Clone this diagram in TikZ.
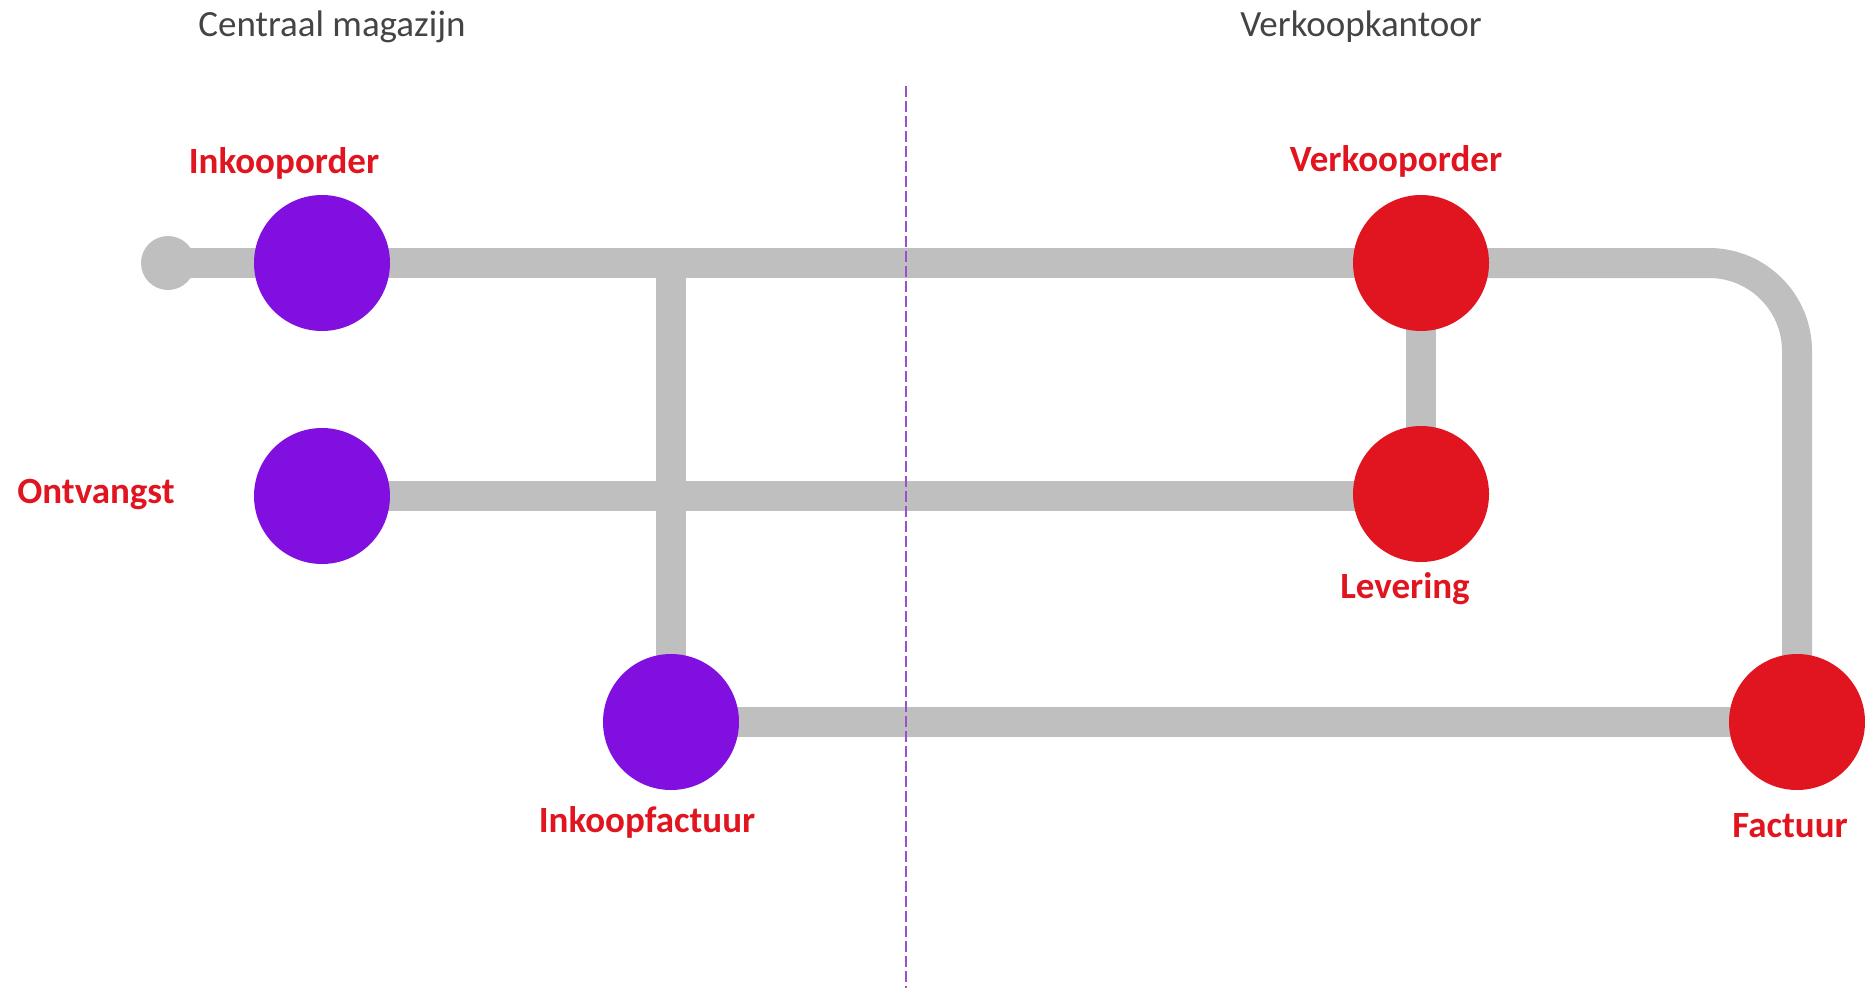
\documentclass[tikz,border=0pt]{standalone}
\usepackage{fontspec}
\setmainfont{Carlito}
\pgfdeclarelayer{bg}
\pgfsetlayers{bg,main}
\definecolor{trackgray}{HTML}{BFBFBF}
\definecolor{stpurple}{HTML}{8110E0}
\definecolor{stred}{HTML}{E0151F}
\definecolor{dashpurple}{HTML}{9B4FCB}
\definecolor{titlegray}{HTML}{444444}
\begin{document}
\begin{tikzpicture}[x=1pt,y=-1pt,
  track/.style={draw=trackgray,line width=30pt},
  station/.style={circle,inner sep=0pt,minimum size=136pt},
  pstation/.style={station,fill=stpurple},
  rstation/.style={station,fill=stred},
  lbl/.style={text=stred,font=\fontsize{37}{44}\selectfont\bfseries,anchor=base,inner sep=0pt},
  ttl/.style={text=titlegray,font=\fontsize{37}{44}\selectfont,anchor=base,inner sep=0pt},
  divider/.style={draw=dashpurple,line width=2.5pt,dash pattern=on 11pt off 4pt}]
\useasboundingbox (0,0) rectangle (1865,988);
% titles
\node[ttl] (t1) at (332,36) {Centraal magazijn};
\node[ttl] (t2) at (1361,36) {Verkoopkantoor};
% stations
\node[circle,inner sep=0pt,minimum size=54pt,fill=trackgray] (start) at (168,263) {};
\node[pstation] (io) at (322,263) {};
\node[pstation] (ont) at (322,496) {};
\node[pstation] (ifac) at (671,722) {};
\node[rstation] (vo) at (1421,263) {};
\node[rstation] (lev) at (1421,494) {};
\node[rstation] (fac) at (1797,722) {};
% labels
\node[lbl] (l1) at (284,173) {Inkooporder};
\node[lbl] (l2) at (96,503) {Ontvangst};
\node[lbl] (l3) at (647,832) {Inkoopfactuur};
\node[lbl] (l4) at (1396,171) {Verkooporder};
\node[lbl] (l5) at (1405,598) {Levering};
\node[lbl] (l6) at (1790,837) {Factuur};
\coordinate (dtop) at (906,86);
\coordinate (dbot) at (906,988);
\begin{pgfonlayer}{bg}
\draw[track] (start.center) -- (io.center) -- (vo.center);
\draw[track,rounded corners=88pt] (vo.center) -- (fac.center |- vo.center) -- (fac.center);
\draw[track] (ont.center) -- (lev.center |- ont.center);
\draw[track] (ifac.center) -- (fac.center);
\draw[track] (ifac.center |- io.center) -- (ifac.center);
\draw[track] (vo.center) -- (lev.center);
\draw[divider] (dtop) -- (dbot);
\end{pgfonlayer}
\end{tikzpicture}
\end{document}
